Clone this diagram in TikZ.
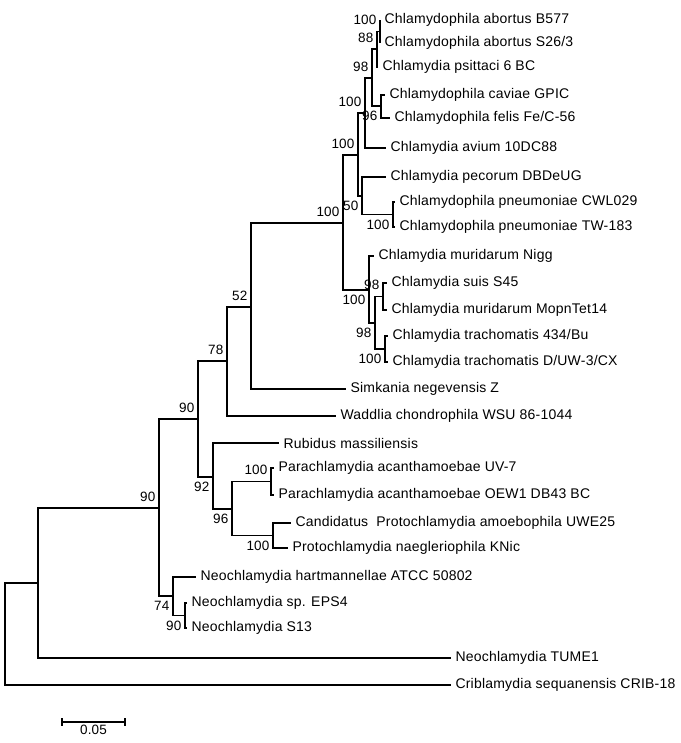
\documentclass[tikz,border=0pt]{standalone}
\usepackage{fontspec}
\setmainfont{Liberation Sans}[LetterSpace=1.5]
\usepackage{tikz}
\usetikzlibrary{calc}

\begin{document}
\begin{tikzpicture}[x=1pt, y=-1pt, line width=1.1pt,
  leaf/.style={anchor=west, inner xsep=4pt, inner ysep=1pt, font=\fontsize{14}{16}\selectfont},
  boot/.style={inner sep=0pt, font=\fontsize{13.5}{15}\selectfont},
  bootup/.style={boot, anchor=south east, xshift=-3pt, yshift=6pt},
  bootdn/.style={boot, anchor=north east, xshift=-3pt, yshift=-5pt}]
\useasboundingbox (0,0) rectangle (680,743);
% Leaves
\node[leaf] (cab1) at (380,20) {Chlamydophila abortus B577};
\node[leaf] (cab2) at (380,43) {Chlamydophila abortus S26/3};
\node[leaf] (cps) at (378,67) {Chlamydia psittaci 6 BC};
\node[leaf] (cca) at (385,95) {Chlamydophila caviae GPIC};
\node[leaf] (cfe) at (390,118) {Chlamydophila felis Fe/C-56};
\node[leaf] (cav) at (386,148) {Chlamydia avium 10DC88};
\node[leaf] (cpe) at (386,177) {Chlamydia pecorum DBDeUG};
\node[leaf] (cpn1) at (395,202) {Chlamydophila pneumoniae CWL029};
\node[leaf] (cpn2) at (395,227) {Chlamydophila pneumoniae TW-183};
\node[leaf] (cmu1) at (374,256) {Chlamydia muridarum Nigg};
\node[leaf] (csu) at (387,283) {Chlamydia suis S45};
\node[leaf] (cmu2) at (387,310) {Chlamydia muridarum MopnTet14};
\node[leaf] (ctr1) at (388,336) {Chlamydia trachomatis 434/Bu};
\node[leaf] (ctr2) at (388,362) {Chlamydia trachomatis D/UW-3/CX};
\node[leaf] (sim) at (346,389) {Simkania negevensis Z};
\node[leaf] (wad) at (336,416) {Waddlia chondrophila WSU 86-1044};
\node[leaf] (rub) at (279,443) {Rubidus massiliensis};
\node[leaf] (par1) at (274,468) {Parachlamydia acanthamoebae UV-7};
\node[leaf] (par2) at (274,495) {Parachlamydia acanthamoebae OEW1 DB43 BC};
\node[leaf] (pam) at (291,523) {Candidatus\ \ Protochlamydia amoebophila UWE25};
\node[leaf] (pna) at (288,548) {Protochlamydia naegleriophila KNic};
\node[leaf] (nha) at (196,577) {Neochlamydia hartmannellae ATCC 50802};
\node[leaf] (neps) at (187,603) {Neochlamydia sp. EPS4};
\node[leaf] (ns13) at (187,628) {Neochlamydia S13};
\node[leaf] (ntu) at (451,658) {Neochlamydia TUME1};
\node[leaf] (cri) at (451,685) {Criblamydia sequanensis CRIB-18};
% Inner nodes
\coordinate (AB) at (380,31.5);
\coordinate (W) at (377,49);
\coordinate (V) at (372,78);
\coordinate (X) at (381,106);
\coordinate (R) at (365,113);
\coordinate (U) at (393,214.5);
\coordinate (Q) at (362,196);
\coordinate (P) at (358,155);
\coordinate (S) at (383,296.5);
\coordinate (T) at (385,349);
\coordinate (ST) at (375,323);
\coordinate (M) at (369,290);
\coordinate (K) at (343,223);
\coordinate (E) at (251,307);
\coordinate (D) at (227,361);
\coordinate (H) at (271,481.5);
\coordinate (I) at (273,535.5);
\coordinate (G) at (232,509);
\coordinate (F) at (213,477);
\coordinate (C) at (198,419);
\coordinate (N2) at (185,615.5);
\coordinate (N1) at (173,596);
\coordinate (B) at (159,508);
\coordinate (A) at (38,583);
\coordinate (O) at (5,634);
% Branches
\draw (O) |- (A) (O) |- (cri.west);
\draw (A) |- (B) (A) |- (ntu.west);
\draw (B) |- (C) (B) |- (N1);
\draw (C) |- (D) (C) |- (F);
\draw (D) |- (E) (D) |- (wad.west);
\draw (E) |- (K) (E) |- (sim.west);
\draw (K) |- (P) (K) |- (M);
\draw (P) |- (R) (P) |- (Q);
\draw (R) |- (V) (R) |- (cav.west);
\draw (V) |- (W) (V) |- (X);
\draw (W) |- (AB) (W) |- (cps.west);
\draw (AB) |- (cab1.west) (AB) |- (cab2.west);
\draw (X) |- (cca.west) (X) |- (cfe.west);
\draw (Q) |- (cpe.west) (Q) |- (U);
\draw (U) |- (cpn1.west) (U) |- (cpn2.west);
\draw (M) |- (cmu1.west) (M) |- (ST);
\draw (ST) |- (S) (ST) |- (T);
\draw (S) |- (csu.west) (S) |- (cmu2.west);
\draw (T) |- (ctr1.west) (T) |- (ctr2.west);
\draw (F) |- (rub.west) (F) |- (G);
\draw (G) |- (H) (G) |- (I);
\draw (H) |- (par1.west) (H) |- (par2.west);
\draw (I) |- (pam.west) (I) |- (pna.west);
\draw (N1) |- (nha.west) (N1) |- (N2);
\draw (N2) |- (neps.west) (N2) |- (ns13.west);
% Bootstrap values
\node[bootup] (bAB) at (AB) {100};
\node[bootup] (bW) at (W) {88};
\node[bootup] (bV) at (V) {98};
\node[bootdn] (bX) at (X) {96};
\node[bootup] (bR) at (R) {100};
\node[bootup] (bP) at (P) {100};
\node[bootdn] (bQ) at (Q) {50};
\node[bootdn] (bU) at (U) {100};
\node[bootup] (bK) at (K) {100};
\node[bootdn] (bM) at (M) {100};
\node[bootup] (bS) at (S) {98};
\node[bootdn] (bST) at (ST) {98};
\node[bootdn] (bT) at (T) {100};
\node[bootup] (bE) at (E) {52};
\node[bootup] (bD) at (D) {78};
\node[bootup] (bC) at (C) {90};
\node[bootdn] (bF) at (F) {92};
\node[bootdn] (bG) at (G) {96};
\node[bootup] (bH) at (H) {100};
\node[bootdn] (bI) at (I) {100};
\node[bootup] (bB) at (B) {90};
\node[bootdn] (bN1) at (N1) {74};
\node[bootdn] (bN2) at (N2) {90};
% Scale bar
\coordinate (sb1) at (62,722);
\coordinate (sb2) at (125,722);
\draw (sb1) -- (sb2);
\draw ([yshift=4pt]sb1) -- ([yshift=-4pt]sb1) ([yshift=4pt]sb2) -- ([yshift=-4pt]sb2);
\node[boot, anchor=north] (sblab) at ([yshift=-3pt]$(sb1)!0.5!(sb2)$) {0.05};
\end{tikzpicture}
\end{document}
